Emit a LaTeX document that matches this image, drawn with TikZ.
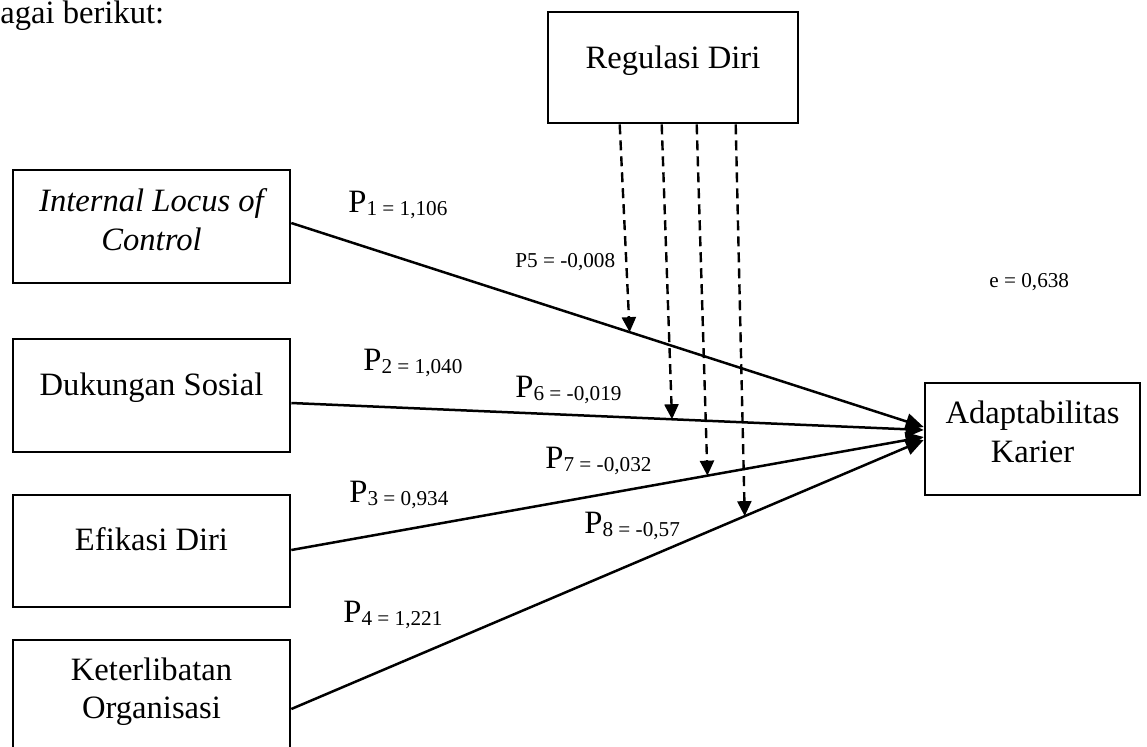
\documentclass[tikz,border=0pt]{standalone}
\usepackage{fontspec}
\setmainfont{Liberation Serif}
\usetikzlibrary{arrows.meta,calc}
\newcommand{\plab}[2]{P\raisebox{-1.5pt}{\fontsize{10.6}{12}\selectfont #1 = #2}}
\begin{document}
\begin{tikzpicture}[x=0.5pt,y=-0.5pt,
  box/.style={draw,line width=1.3pt,inner sep=0pt,rectangle},
  txt/.style={anchor=base,inner sep=0pt,font=\fontsize{16.3}{19}\selectfont},
  lab/.style={anchor=base west,inner sep=0pt,font=\fontsize{16.3}{19}\selectfont},
  slab/.style={anchor=base west,inner sep=0pt,font=\fontsize{10.6}{12}\selectfont},
  conn/.style={line width=1.25pt,-{Triangle[length=9pt,width=8pt]}},
  modline/.style={line width=1.2pt,dash pattern=on 5pt off 3pt,-{Triangle[length=7.5pt,width=7pt]}}]
\path[use as bounding box,clip] (0,0) rectangle (1147,746);

% boxes
\node[box,minimum width=125pt,minimum height=55.5pt] (rd) at (673,67.5) {};
\node[box,minimum width=138.5pt,minimum height=56.5pt] (ilc) at (151.5,226.5) {};
\node[box,minimum width=138.5pt,minimum height=56.5pt] (ds) at (151.5,395.5) {};
\node[box,minimum width=138.5pt,minimum height=56pt] (ed) at (151.5,551) {};
\node[box,minimum width=138.5pt,minimum height=57.5pt] (ko) at (151.5,697.5) {};
\node[box,minimum width=107.5pt,minimum height=56pt] (ak) at (1032.5,439) {};

% box texts
\node[txt] (trd) at (673,68) {Regulasi Diri};
\node[txt] (tilc1) at (151.5,211) {\itshape Internal Locus of};
\node[txt] (tilc2) at (151.5,250) {\itshape Control};
\node[txt] (tds) at (151.5,395) {Dukungan Sosial};
\node[txt] (ted) at (151.5,550) {Efikasi Diri};
\node[txt] (tko1) at (151.5,680) {Keterlibatan};
\node[txt] (tko2) at (151.5,718) {Organisasi};
\node[txt] (tak1) at (1032.5,423) {Adaptabilitas};
\node[txt] (tak2) at (1032.5,462) {Karier};

% heading fragment
\node[lab] (head) at (0,23) {agai berikut:};

% connector end points
\coordinate (s1) at ($(ilc.east)+(0,-3.5)$);
\coordinate (s2) at ($(ds.east)+(0,7.5)$);
\coordinate (s3) at ($(ed.east)+(0,-1)$);
\coordinate (s4) at ($(ko.east)+(0,11.5)$);
\coordinate (e1) at ($(ak.west)+(0,-12)$);
\coordinate (e2) at ($(ak.west)+(0,-9)$);
\coordinate (e3) at ($(ak.west)+(0,-2)$);
\coordinate (e4) at ($(ak.west)+(0,1)$);

\draw[conn] (s1) -- (e1);
\draw[conn] (s2) -- (e2);
\draw[conn] (s3) -- (e3);
\draw[conn] (s4) -- (e4);

% moderation points on the paths
\coordinate (m1) at ($(s1)!0.535!(e1)$);
\coordinate (m2) at ($(s2)!0.602!(e2)$);
\coordinate (m3) at ($(s3)!0.658!(e3)$);
\coordinate (m4) at ($(s4)!0.717!(e4)$);
\coordinate (r1) at ($(rd.south west)+(73,0)$);
\coordinate (r2) at ($(rd.south west)+(115,0)$);
\coordinate (r3) at ($(rd.south west)+(150,0)$);
\coordinate (r4) at ($(rd.south west)+(189,0)$);

\draw[modline] (r1) -- (m1);
\draw[modline] (r2) -- (m2);
\draw[modline] (r3) -- (m3);
\draw[modline] (r4) -- (m4);

% labels
\node[lab] (p1) at (348,212) {\plab{1}{1,106}};
\node[slab] (p5) at (515,267) {P5 = -0,008};
\node[lab] (p2) at (363,370) {\plab{2}{1,040}};
\node[lab] (p6) at (515,397) {\plab{6}{-0,019}};
\node[lab] (p7) at (545,468) {\plab{7}{-0,032}};
\node[lab] (p3) at (349,502) {\plab{3}{0,934}};
\node[lab] (p8) at (584,533) {\plab{8}{-0,57}};
\node[lab] (p4) at (343,622) {\plab{4}{1,221}};
\node[slab] (el) at (989,287) {e = 0,638};
\end{tikzpicture}
\end{document}
